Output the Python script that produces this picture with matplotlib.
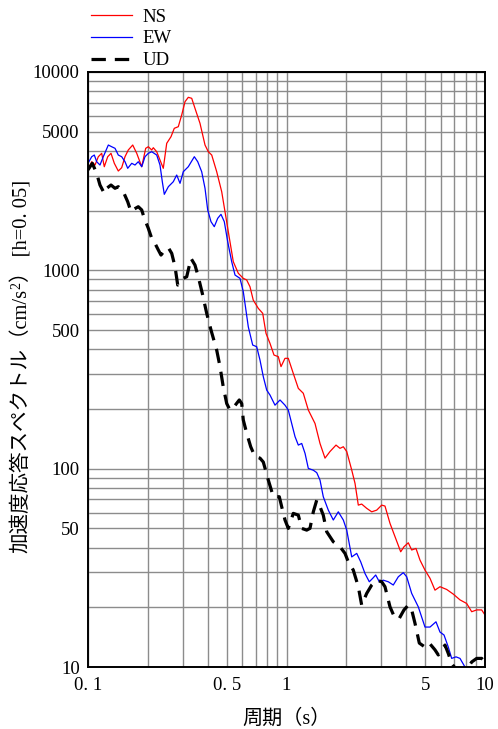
import matplotlib
matplotlib.use("Agg")
import matplotlib.pyplot as plt
from matplotlib.ticker import FixedLocator, FixedFormatter, LogLocator, NullFormatter

plt.rcParams['font.family'] = ['Liberation Serif', 'Noto Sans CJK JP', 'DejaVu Sans']

# Acceleration response spectra (h=0.05): period [s] and Sa [cm/s^2]
ns_period = [0.100, 0.1044, 0.1085, 0.1127, 0.1172, 0.1208, 0.1257, 0.1306, 0.1357, 0.1421,
             0.1478, 0.1536, 0.1596, 0.168, 0.176, 0.1865, 0.1953, 0.2013, 0.2094, 0.2133,
             0.2219, 0.2305, 0.2395, 0.2492, 0.2619, 0.2721, 0.285, 0.2965, 0.3081, 0.3201,
             0.333, 0.3459, 0.3666, 0.3886, 0.4037, 0.42, 0.445, 0.4716, 0.5092, 0.5395,
             0.5718, 0.6058, 0.6301, 0.6546, 0.68, 0.7211, 0.7589, 0.7885, 0.826, 0.865,
             0.9093, 0.9383, 0.9827, 1.021, 1.082, 1.147, 1.215, 1.288, 1.392, 1.475,
             1.563, 1.656, 1.776, 1.86, 1.933, 2.011, 2.131, 2.214, 2.30, 2.392,
             2.535, 2.687, 2.848, 3.017, 3.134, 3.322, 3.521, 3.761, 3.907, 4.107,
             4.272, 4.491, 4.704, 4.985, 5.284, 5.598, 5.933, 6.412, 6.924, 7.482,
             8.087, 8.57, 9.081, 9.62, 10.0]
ns_sa = [3210, 3529, 3396, 3740, 3890, 3330, 3740, 3890, 3464, 3168,
         3292, 3740, 4044, 4284, 3890, 3330, 4123, 4200, 4044, 4152,
         3963, 3599, 3269, 4369, 4718, 5201, 5299, 6071, 7083, 7453,
         7368, 6560, 5512, 4284, 3963, 3814, 3142, 2491, 1565, 1105,
         966, 911, 894, 827, 708, 643, 607, 481, 428, 374,
         367, 327, 360, 360, 302, 254, 240, 197.5, 169, 134,
         113, 122, 131.5, 126.6, 129, 122, 98.4, 84.3, 65.5, 66.3,
         63.1, 60.6, 61.8, 65.5, 64.8, 53.0, 45.4, 38.1, 40.4, 42.3,
         38.9, 39.6, 34.6, 30.8, 28.0, 24.4, 25.4, 24.6, 23.3, 21.8,
         20.9, 19.0, 19.4, 19.4, 18.3]

ew_period = [0.100, 0.1044, 0.1076, 0.1106, 0.1149, 0.1194, 0.1266, 0.1316, 0.1368, 0.1421,
             0.1478, 0.1536, 0.1585, 0.1661, 0.1725, 0.1792, 0.1865, 0.1937, 0.2013, 0.2094,
             0.2219, 0.2305, 0.2368, 0.2423, 0.254, 0.269, 0.2798, 0.2908, 0.302, 0.3201,
             0.3433, 0.3571, 0.3739, 0.3886, 0.4009, 0.4165, 0.4327, 0.4502, 0.4677, 0.486,
             0.5056, 0.5296, 0.5504, 0.5831, 0.6058, 0.6178, 0.642, 0.6756, 0.7076, 0.7352,
             0.764, 0.7948, 0.826, 0.875, 0.9275, 0.9827, 1.021, 1.062, 1.104, 1.147,
             1.193, 1.24, 1.288, 1.365, 1.42, 1.475, 1.532, 1.624, 1.721, 1.824,
             1.933, 2.011, 2.131, 2.258, 2.365, 2.486, 2.613, 2.718, 2.814, 2.935,
             3.074, 3.257, 3.451, 3.658, 3.876, 4.032, 4.272, 4.613, 4.985, 5.284,
             5.663, 5.933, 6.216, 6.533, 6.795, 7.143, 7.482, 7.928, 8.4]
ew_sa = [3464, 3740, 3814, 3529, 3396, 3740, 4284, 4200, 4123, 3814,
         3740, 3529, 3269, 3464, 3396, 3529, 3330, 3740, 3890, 3963,
         3814, 3396, 2798, 2417, 2641, 2798, 3024, 2746, 3142, 3330,
         3740, 3529, 3142, 2592, 2015, 1759, 1660, 1829, 1916, 1759,
         1394, 1105, 947, 911, 780, 681, 519, 420, 412, 353,
         291, 249, 235, 209, 222, 209, 197.5, 169, 145, 131.5,
         134, 119.4, 100.3, 98.2, 95.5, 87.6, 72.2, 61.8, 55.1, 60.6,
         55.1, 49.0, 35.9, 37.4, 33.9, 29.6, 26.9, 28.0, 29.1, 26.9,
         27.4, 26.9, 25.9, 28.5, 29.9, 28.5, 23.5, 20.1, 15.9, 15.9,
         16.9, 15.0, 14.5, 12.6, 11.05, 11.25, 11.05, 10.0, 8.5]

ud_period = [0.100, 0.1051, 0.1106, 0.1149, 0.1208, 0.1242, 0.1306, 0.1368, 0.1421, 0.1506,
             0.1585, 0.1647, 0.1711, 0.1792, 0.1865, 0.1921, 0.2013, 0.2094, 0.2175, 0.2261,
             0.2332, 0.2443, 0.254, 0.2641, 0.2744, 0.2831, 0.302, 0.3142, 0.3303, 0.3459,
             0.3594, 0.3765, 0.3963, 0.4165, 0.445, 0.4624, 0.48, 0.4998, 0.5193, 0.5438,
             0.5783, 0.5947, 0.6058, 0.6301, 0.6601, 0.6938, 0.7352, 0.764, 0.8098, 0.8582,
             0.9198, 0.9457, 0.9827, 1.021, 1.082, 1.147, 1.193, 1.264, 1.313, 1.365,
             1.42, 1.475, 1.532, 1.594, 1.721, 1.86, 1.971, 2.048, 2.17, 2.30,
             2.392, 2.535, 2.687, 2.848, 3.017, 3.134, 3.322, 3.521, 3.701, 3.907,
             4.107, 4.272, 4.44, 4.667, 4.985, 5.241, 5.598, 5.817, 6.288, 6.533,
             6.795, 7.061, 7.6, 8.087, 8.57, 9.081, 9.62, 10.0]
ud_sa = [3210, 3464, 3084, 2692, 2445, 2592, 2692, 2592, 2641, 2491,
         2218, 1975, 2038, 2093, 2015, 1829, 1629, 1450, 1368, 1266,
         1194, 1266, 1300, 1218, 1043, 843, 911, 928, 1149, 1063,
         928, 766, 607, 500, 396, 327, 259, 213, 197.5, 205,
         222, 213, 176, 151, 129, 115, 113, 108, 87.6, 72.2,
         72.2, 64.3, 55.1, 50.0, 59.5, 58.3, 50.0, 49.0, 50.0, 60.6,
         69.4, 64.3, 58.3, 48.1, 42.8, 40.4, 37.4, 33.9, 30.8, 25.4,
         20.5, 23.5, 25.9, 27.4, 26.9, 25.4, 20.1, 17.6, 17.6, 19.4,
         20.5, 19.4, 16.6, 13.2, 12.6, 13.2, 12.2, 11.5, 12.9, 11.7,
         10.4, 9.9, 9.6, 9.7, 10.6, 11.05, 11.05, 10.6]

x_ticks = [0.1, 0.5, 1, 5, 10]
x_tick_labels = ['0. 1', '0. 5', '1', '5', '10']
y_ticks = [10, 50, 100, 500, 1000, 5000, 10000]
y_tick_labels = ['10', '50', '100', '500', '1000', '5000', '10000']

W, H = 498, 729
fig = plt.figure(figsize=(W / 100, H / 100), dpi=100)
ax = fig.add_axes([88 / W, 1 - 667 / H, (485 - 88) / W, (667 - 72) / H])

ax.set_xscale('log')
ax.set_yscale('log')
ax.set_xlim(0.1, 10)
ax.set_ylim(10, 10000)

ax.plot(ns_period, ns_sa, color='#ff0000', lw=0.9, label='NS', zorder=3)
ax.plot(ew_period, ew_sa, color='#0000ff', lw=0.9, label='EW', zorder=3)
ax.plot(ud_period, ud_sa, color='black', lw=2.3, dashes=(4.5, 2.8), label='UD', zorder=4)

ax.xaxis.set_major_locator(FixedLocator(x_ticks))
ax.xaxis.set_major_formatter(FixedFormatter(x_tick_labels))
ax.xaxis.set_minor_locator(LogLocator(base=10, subs=range(1, 10)))
ax.xaxis.set_minor_formatter(NullFormatter())
ax.yaxis.set_major_locator(FixedLocator(y_ticks))
ax.yaxis.set_major_formatter(FixedFormatter(y_tick_labels))
ax.yaxis.set_minor_locator(LogLocator(base=10, subs=range(1, 10)))
ax.yaxis.set_minor_formatter(NullFormatter())

ax.grid(True, which='both', color='#8c8c8c', lw=1.0, zorder=1)
ax.tick_params(which='both', length=0, labelsize=13.5)
ax.tick_params(axis='x', pad=7)
ax.tick_params(axis='y', pad=6)
for s in ax.spines.values():
    s.set_linewidth(1.4)
    s.set_zorder(5)

ax.set_xlabel('周期（s）', fontsize=14.5, labelpad=11)

ax.legend(loc='lower left', bbox_to_anchor=(0.0, 1.0), frameon=False, fontsize=13.5,
          handlelength=2.2, handletextpad=0.55, labelspacing=0.25,
          borderpad=0.0, borderaxespad=0.15)

# Vertical axis title, built piece by piece so that the exponent sits raised
renderer = fig.canvas.get_renderer()
label_x = 22 / W
y_cursor = 1 - 553 / H
pieces = [('加速度応答スペクトル（cm/s', 14.8, 0.0),
          ('2', 10.0, -5.5),
          ('） [h=0. 05]', 14.8, 0.0)]
for txt, size, dx in pieces:
    t = fig.text(label_x + dx / W, y_cursor, txt, rotation=90, fontsize=size,
                 ha='center', va='bottom', rotation_mode='default')
    bb = t.get_window_extent(renderer)
    y_cursor = bb.y1 / H

fig.savefig('out.png', dpi=100)
